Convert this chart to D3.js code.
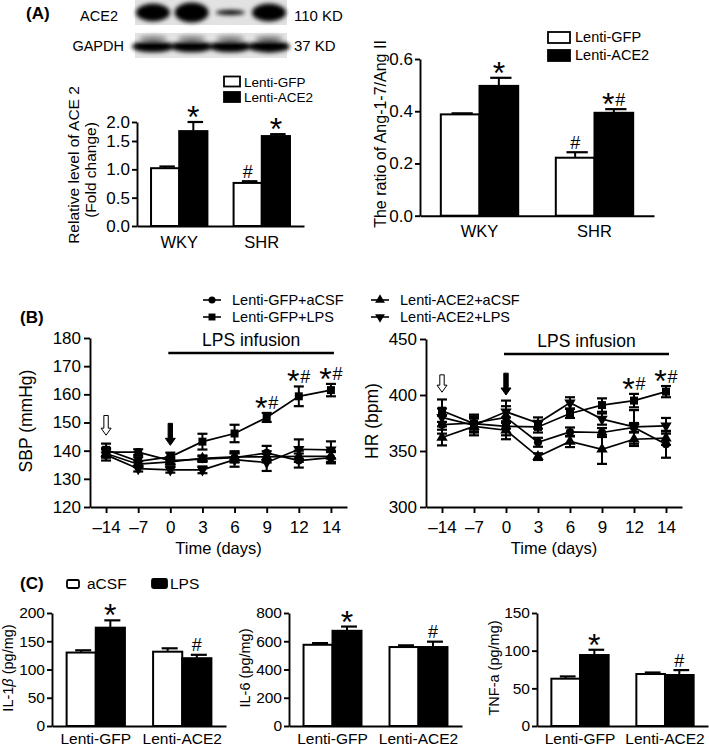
<!DOCTYPE html>
<html><head><meta charset="utf-8">
<script src="https://cdn.jsdelivr.net/npm/d3@7"></script>
<style>
body{margin:0;background:#fff}
svg{display:block}
text{font-family:"Liberation Sans",Arial,Helvetica,sans-serif;fill:#000}
</style>
</head><body>
<svg id="c" width="709" height="748"></svg>
<script>
// ---------------- DATA ----------------
// Panel A (blot band strengths, relative, 4 lanes)
const blotLanes = ["L1","L2","L3","L4"];
const ace2Band = [0.9, 1.0, 0.25, 0.9];
const gapdhBand = [0.9, 0.9, 0.9, 0.95];

// Panel A bar charts
const groupsA = ["WKY", "SHR"];
const seriesA = ["Lenti-GFP", "Lenti-ACE2"];
const ace2LevelGFP = [1.02, 0.76];
const ace2LevelGFPErr = [0.03, 0.03];
const ace2LevelACE2 = [1.76, 1.63];
const ace2LevelACE2Err = [0.24, 0.05];
const ace2LevelSigGFP = ["", "#"];
const ace2LevelSigACE2 = ["*", "*"];
const ace2LevelTicks = [0, 0.5, 1.0, 1.5, 2.0];

const ratioGFP = [0.388, 0.222];
const ratioGFPErr = [0.004, 0.021];
const ratioACE2 = [0.497, 0.394];
const ratioACE2Err = [0.031, 0.014];
const ratioSigGFP = ["", "#"];
const ratioSigACE2 = ["*", "*#"];
const ratioTicks = [0, 0.2, 0.4, 0.6];

// Panel B
const days = ["\u201314", "\u20137", "0", "3", "6", "9", "12", "14"];
const seriesB = ["Lenti-GFP+aCSF", "Lenti-GFP+LPS", "Lenti-ACE2+aCSF", "Lenti-ACE2+LPS"];
const sbpGFPaCSF    = [139.5, 139.5, 136.5, 137.0, 137.5, 139.2, 136.5, 137.5];
const sbpGFPaCSFErr = [1.5, 1.0, 1.2, 1.0, 1.5, 2.5, 2.5, 2.0];
const sbpGFPLPS     = [140.3, 136.2, 137.8, 143.2, 146.1, 151.8, 159.3, 161.5];
const sbpGFPLPSErr  = [2.2, 1.5, 1.5, 2.8, 3.1, 1.6, 3.5, 2.2];
const sbpACE2aCSF   = [139.0, 135.2, 136.0, 137.3, 137.8, 137.8, 138.0, 138.0];
const sbpACE2aCSFErr= [1.5, 1.0, 1.0, 1.0, 2.0, 2.0, 2.0, 2.0];
const sbpACE2LPS    = [138.5, 133.6, 133.2, 133.2, 136.8, 135.8, 140.5, 140.3];
const sbpACE2LPSErr = [2.0, 1.0, 1.0, 1.2, 2.5, 3.0, 3.5, 3.0];
const sbpSig        = ["", "", "", "", "", "*#", "*#", "*#"];
const sbpTicks = [120, 130, 140, 150, 160, 170, 180];

const hrGFPaCSF     = [373.5, 375, 380, 357.8, 367, 366.5, 371, 356];
const hrGFPaCSFErr  = [8, 6, 10, 4, 4, 4, 4, 12];
const hrGFPLPS      = [386, 374.5, 372, 371.5, 383.5, 391, 395, 403];
const hrGFPLPSErr   = [10, 8, 8, 5, 4, 6, 6, 5];
const hrACE2aCSF    = [362, 372, 368.5, 345, 358.5, 351.5, 360.5, 361.5];
const hrACE2aCSFErr = [7, 8, 8, 3, 5, 13, 6, 6];
const hrACE2LPS     = [380, 373, 385, 375, 393, 378.5, 371.5, 372.5];
const hrACE2LPSErr  = [8, 6, 10, 5, 5, 5, 15, 7];
const hrSig         = ["", "", "", "", "", "", "*#", "*#"];
const hrTicks = [300, 350, 400, 450];

// arrows (day, top value, tip value, open?)
const sbpArrows = [["\u201314", 152.5, 145.5, true], ["0", 149.7, 141.9, false]];
const hrArrows  = [["\u201314", 418, 402.5, true], ["0", 419.5, 400, false]];

// Panel C
const groupsC = ["Lenti-GFP", "Lenti-ACE2"];
const seriesC = ["aCSF", "LPS"];
const il1aCSF = [130, 131.5], il1aCSFErr = [4, 6];
const il1LPS  = [174, 120],   il1LPSErr  = [13, 6];
const il1SigLPS = ["*", "#"];
const il1Ticks = [0, 50, 100, 150, 200];
const il6aCSF = [575, 559], il6aCSFErr = [12, 12];
const il6LPS  = [674, 559], il6LPSErr  = [30, 38];
const il6SigLPS = ["*", "#"];
const il6Ticks = [0, 200, 400, 600, 800];
const tnfaCSF = [62.8, 69], tnfaCSFErr = [3, 2];
const tnfLPS  = [94.2, 67.7], tnfLPSErr = [7, 6.5];
const tnfSigLPS = ["*", "#"];
const tnfTicks = [0, 50, 100, 150];

// ---------------- DRAWING ----------------
const svg = d3.select("#c");
const LW = 1.9;

function styleAxis(sel, fs) {
  sel.select(".domain").attr("stroke", "#000").attr("stroke-width", LW);
  sel.selectAll(".tick line").attr("stroke", "#000").attr("stroke-width", LW);
  sel.selectAll(".tick text").attr("font-size", fs).attr("fill", "#000")
     .attr("font-family", '"Liberation Sans",Arial,sans-serif');
}

function sig(g, cx, cy, str) {
  const W = {"*": 13, "#": 11};
  const chars = str.split("");
  const total = d3.sum(chars, c => W[c]);
  let x = cx - total / 2;
  chars.forEach(c => {
    const fs = c === "*" ? 32 : 18;
    const off = c === "*" ? 0.5 * fs : 0.36 * fs;
    g.append("text").attr("x", x + W[c] / 2).attr("y", cy + off)
      .attr("text-anchor", "middle").attr("font-size", fs).text(c);
    x += W[c];
  });
}

function vTitle(g, x, y, txt, fs) {
  g.append("text").attr("transform", `translate(${x},${y}) rotate(-90)`)
    .attr("text-anchor", "middle").attr("font-size", fs).text(txt);
}

function barChart(o) {
  const g = svg.append("g");
  const x0 = d3.scaleBand().domain(o.groups).range([o.x0, o.x1])
    .paddingInner(o.pin).paddingOuter(o.pout);
  const x1 = d3.scaleBand().domain(o.series).range([0, x0.bandwidth()]);
  const y = o.y;
  o.series.forEach((s, si) => {
    o.groups.forEach((grp, gi) => {
      const v = o.values[si][gi], e = o.errors[si][gi];
      const bx = x0(grp) + x1(s), bw = x1.bandwidth(), cx = bx + bw / 2;
      const top = y(v), et = y(v + e);
      const cw = bw * 0.55;
      g.append("line").attr("x1", cx).attr("x2", cx).attr("y1", top).attr("y2", et)
        .attr("stroke", "#000").attr("stroke-width", 2);
      g.append("line").attr("x1", cx - cw / 2 + 2).attr("x2", cx + cw / 2 + 2).attr("y1", et).attr("y2", et)
        .attr("stroke", "#000").attr("stroke-width", 2.2);
      g.append("rect").attr("x", bx).attr("y", top).attr("width", bw).attr("height", y(0) - top)
        .attr("fill", si ? "#000" : "#fff").attr("stroke", "#000").attr("stroke-width", 2);
      const sg = o.sigs[si][gi];
      if (sg) sig(g, cx, et - 10, sg);
    });
  });
  const ya = g.append("g").attr("transform", `translate(${o.x0},0)`)
    .call(d3.axisLeft(y).tickValues(o.ticks).tickFormat(o.fmt).tickSize(5).tickPadding(2).tickSizeOuter(0));
  styleAxis(ya, o.tfs);
  const xa = g.append("g").attr("transform", `translate(0,${y(0)})`)
    .call(d3.axisBottom(x0).tickSize(0).tickPadding(o.xpad).tickSizeOuter(0));
  styleAxis(xa, o.cfs);
  return g;
}

// ---- Panel A: blot ----
const gA = svg.append("g");
gA.append("text").attr("x", 26).attr("y", 19).attr("font-size", 17).attr("font-weight", "bold").text("(A)");
const defs = svg.append("defs");
defs.append("filter").attr("id", "blur").attr("x", "-30%").attr("y", "-60%").attr("width", "160%").attr("height", "220%")
  .append("feGaussianBlur").attr("stdDeviation", 2.2);
const laneX = d3.scalePoint().domain(blotLanes).range([153, 269]);
gA.append("rect").attr("x", 135).attr("y", 0).attr("width", 152).attr("height", 25).attr("fill", "#e2e2e2");
gA.append("rect").attr("x", 135).attr("y", 33).attr("width", 152).attr("height", 25).attr("fill", "#e4e4e4");
const bandG = gA.append("g").attr("filter", "url(#blur)");
blotLanes.forEach((l, i) => {
  bandG.append("ellipse").attr("cx", laneX(l)).attr("cy", 12.5)
    .attr("rx", 17 * Math.min(1, 0.6 + ace2Band[i])).attr("ry", 10 * ace2Band[i]).attr("fill", "#000");
  bandG.append("ellipse").attr("cx", laneX(l)).attr("cy", 46.5)
    .attr("rx", 21).attr("ry", 6.5 * gapdhBand[i]).attr("fill", "#050505");
  bandG.append("ellipse").attr("cx", laneX(l)).attr("cy", 38)
    .attr("rx", 14).attr("ry", 2.5).attr("fill", "#8a8a8a");
});
gA.append("text").attr("x", 118).attr("y", 21).attr("text-anchor", "end").attr("font-size", 14.5).text("ACE2");
gA.append("text").attr("x", 124).attr("y", 51).attr("text-anchor", "end").attr("font-size", 14.5).text("GAPDH");
gA.append("text").attr("x", 294).attr("y", 21).attr("font-size", 15).text("110 KD");
gA.append("text").attr("x", 294).attr("y", 51).attr("font-size", 15).text("37 KD");

// ---- Panel A left bar chart ----
const gAL = barChart({
  groups: groupsA, series: seriesA, x0: 137, x1: 304, pin: 0.317, pout: 0.17,
  y: d3.scaleLinear().domain([0, 1.5, 2]).range([226, 141, 122]),
  values: [ace2LevelGFP, ace2LevelACE2], errors: [ace2LevelGFPErr, ace2LevelACE2Err],
  sigs: [ace2LevelSigGFP, ace2LevelSigACE2], ticks: ace2LevelTicks, fmt: d3.format(".1f"),
  tfs: 17, cfs: 16.5, xpad: 10.5
});
vTitle(gAL, 79, 165, "Relative level of ACE 2", 15.5);
vTitle(gAL, 96, 170, "(Fold change)", 15.5);
[["#fff", 76.5], ["#000", 92]].forEach((d, i) => {
  gAL.append("rect").attr("x", 224).attr("y", d[1]).attr("width", 16).attr("height", 10)
    .attr("fill", d[0]).attr("stroke", "#000").attr("stroke-width", 1.8);
  gAL.append("text").attr("x", 244).attr("y", d[1] + 10).attr("font-size", 13.5).text(seriesA[i]);
});

// ---- Panel A right bar chart ----
const gAR = barChart({
  groups: groupsA, series: seriesA, x0: 420, x1: 654, pin: 0.327, pout: 0.181,
  y: d3.scaleLinear().domain([0, 0.6]).range([215.7, 59]),
  values: [ratioGFP, ratioACE2], errors: [ratioGFPErr, ratioACE2Err],
  sigs: [ratioSigGFP, ratioSigACE2], ticks: ratioTicks, fmt: d3.format(".1f"),
  tfs: 17, cfs: 16.5, xpad: 10
});
vTitle(gAR, 386, 134, "The ratio of Ang-1-7/Ang II", 16);
[["#fff", 32], ["#000", 50]].forEach((d, i) => {
  gAR.append("rect").attr("x", 548).attr("y", d[1]).attr("width", 22).attr("height", 11)
    .attr("fill", d[0]).attr("stroke", "#000").attr("stroke-width", 1.8);
  gAR.append("text").attr("x", 575).attr("y", d[1] + 10).attr("font-size", 14.5).text(seriesA[i]);
});

// ---- Panel B ----
const symbols = [
  {t: d3.symbolCircle, s: 52, r: 0},
  {t: d3.symbolSquare, s: 64, r: 0},
  {t: d3.symbolTriangle, s: 56, r: 0},
  {t: d3.symbolTriangle, s: 56, r: 180}
];
const gB = svg.append("g");
gB.append("text").attr("x", 20).attr("y", 323).attr("font-size", 17).attr("font-weight", "bold").text("(B)");
const legPos = [[212, 300], [212, 317], [380, 300], [380, 317]];
seriesB.forEach((s, i) => {
  const [cx, cy] = legPos[i];
  gB.append("line").attr("x1", cx - 9).attr("x2", cx + 9).attr("y1", cy).attr("y2", cy)
    .attr("stroke", "#000").attr("stroke-width", 1.6);
  gB.append("path").attr("d", d3.symbol(symbols[i].t, symbols[i].s * 0.75)())
    .attr("transform", `translate(${cx},${cy}) rotate(${symbols[i].r})`).attr("fill", "#000");
  gB.append("text").attr("x", cx + 20).attr("y", cy + 5).attr("font-size", 14.5).text(s);
});

function lineChart(o) {
  const g = svg.append("g");
  const x = d3.scalePoint().domain(days).range([o.x0, o.x1]).padding(0.5);
  const y = d3.scaleLinear().domain([o.ticks[0], o.ticks[o.ticks.length - 1]]).range([507, o.yTop]);
  o.series.forEach((vals, si) => {
    const errs = o.errors[si];
    vals.forEach((v, i) => {
      const cx = x(days[i]), e = errs[i];
      g.append("line").attr("x1", cx).attr("x2", cx).attr("y1", y(v - e)).attr("y2", y(v + e))
        .attr("stroke", "#000").attr("stroke-width", 2);
      [v - e, v + e].forEach(w => g.append("line").attr("x1", cx - 5).attr("x2", cx + 5)
        .attr("y1", y(w)).attr("y2", y(w)).attr("stroke", "#000").attr("stroke-width", 2.2));
    });
    g.append("path").datum(vals)
      .attr("d", d3.line().x((v, i) => x(days[i])).y(v => y(v)))
      .attr("fill", "none").attr("stroke", "#000").attr("stroke-width", 1.7);
    vals.forEach((v, i) => {
      g.append("path").attr("d", d3.symbol(symbols[si].t, symbols[si].s)())
        .attr("transform", `translate(${x(days[i])},${y(v)}) rotate(${symbols[si].r})`).attr("fill", "#000");
    });
  });
  o.sig.forEach((s, i) => {
    if (!s) return;
    const v = o.series[1][i] + o.errors[1][i];
    sig(g, x(days[i]), y(v) - 10, s);
  });
  o.arrows.forEach(([d, top, tip, open]) => {
    const cx = x(d), yt = y(top), yp = y(tip), h = yp - 7;
    const p = `M${cx - 2.2},${yt}L${cx + 2.2},${yt}L${cx + 2.2},${h}L${cx + 5},${h}L${cx},${yp}L${cx - 5},${h}L${cx - 2.2},${h}Z`;
    g.append("path").attr("d", p).attr("fill", open ? "#fff" : "#000").attr("stroke", "#000").attr("stroke-width", 1);
  });
  const lx0 = x("0") - 2, lx1 = x("14") + 3;
  g.append("line").attr("x1", lx0).attr("x2", lx1).attr("y1", o.yTop + 15).attr("y2", o.yTop + 15)
    .attr("stroke", "#000").attr("stroke-width", 2.4);
  g.append("text").attr("x", (lx0 + lx1) / 2).attr("y", o.yTop + 8).attr("text-anchor", "middle")
    .attr("font-size", 17.5).text("LPS infusion");
  const ya = g.append("g").attr("transform", `translate(${o.x0},0)`)
    .call(d3.axisLeft(y).tickValues(o.ticks).tickSize(6).tickPadding(3).tickSizeOuter(0));
  styleAxis(ya, 17);
  const xa = g.append("g").attr("transform", `translate(0,507)`)
    .call(d3.axisBottom(x).tickSize(6).tickPadding(8).tickSizeOuter(0));
  styleAxis(xa, 17);
  g.append("text").attr("x", (o.x0 + o.x1) / 2).attr("y", 554).attr("text-anchor", "middle")
    .attr("font-size", 16.5).text("Time (days)");
  vTitle(g, o.titleX, 421, o.title, 17.5);
  return g;
}

lineChart({
  x0: 90, x1: 347, yTop: 338, ticks: sbpTicks,
  series: [sbpGFPaCSF, sbpGFPLPS, sbpACE2aCSF, sbpACE2LPS],
  errors: [sbpGFPaCSFErr, sbpGFPLPSErr, sbpACE2aCSFErr, sbpACE2LPSErr],
  sig: sbpSig, arrows: sbpArrows, title: "SBP (mmHg)", titleX: 32
});
lineChart({
  x0: 426, x1: 682, yTop: 339, ticks: hrTicks,
  series: [hrGFPaCSF, hrGFPLPS, hrACE2aCSF, hrACE2LPS],
  errors: [hrGFPaCSFErr, hrGFPLPSErr, hrACE2aCSFErr, hrACE2LPSErr],
  sig: hrSig, arrows: hrArrows, title: "HR (bpm)", titleX: 378
});

// ---- Panel C ----
const gC = svg.append("g");
gC.append("text").attr("x", 20).attr("y", 589).attr("font-size", 17).attr("font-weight", "bold").text("(C)");
gC.append("rect").attr("x", 67).attr("y", 580).attr("width", 12).attr("height", 8).attr("rx", 1.5)
  .attr("fill", "#fff").attr("stroke", "#000").attr("stroke-width", 1.8);
gC.append("text").attr("x", 87).attr("y", 589).attr("font-size", 15.5).text(seriesC[0]);
gC.append("rect").attr("x", 152).attr("y", 579).attr("width", 15).attr("height", 9).attr("rx", 1.5)
  .attr("fill", "#000").attr("stroke", "#000").attr("stroke-width", 1.8);
gC.append("text").attr("x", 170).attr("y", 589).attr("font-size", 15.5).text(seriesC[1]);

const cY = [726, 613];
const c1 = barChart({
  groups: groupsC, series: seriesC, x0: 52, x1: 226, pin: 0.326, pout: 0.169,
  y: d3.scaleLinear().domain([0, 200]).range(cY),
  values: [il1aCSF, il1LPS], errors: [il1aCSFErr, il1LPSErr],
  sigs: [["", ""], il1SigLPS], ticks: il1Ticks, fmt: d3.format("d"), tfs: 15.5, cfs: 15.5, xpad: 7
});
c1.append("text").attr("transform", "translate(13,668) rotate(-90)").attr("text-anchor", "middle")
  .attr("font-size", 14.5).html('IL-1<tspan font-style="italic">β</tspan> (pg/mg)');
const c2 = barChart({
  groups: groupsC, series: seriesC, x0: 289, x1: 462, pin: 0.326, pout: 0.169,
  y: d3.scaleLinear().domain([0, 800]).range(cY),
  values: [il6aCSF, il6LPS], errors: [il6aCSFErr, il6LPSErr],
  sigs: [["", ""], il6SigLPS], ticks: il6Ticks, fmt: d3.format("d"), tfs: 15.5, cfs: 15.5, xpad: 7
});
vTitle(c2, 250, 668, "IL-6 (pg/mg)", 14.5);
const c3 = barChart({
  groups: groupsC, series: seriesC, x0: 537, x1: 708, pin: 0.326, pout: 0.169,
  y: d3.scaleLinear().domain([0, 150]).range(cY),
  values: [tnfaCSF, tnfLPS], errors: [tnfaCSFErr, tnfLPSErr],
  sigs: [["", ""], tnfSigLPS], ticks: tnfTicks, fmt: d3.format("d"), tfs: 15.5, cfs: 15.5, xpad: 7
});
vTitle(c3, 499, 668, "TNF-a (pg/mg)", 14.5);
</script>
</body></html>
